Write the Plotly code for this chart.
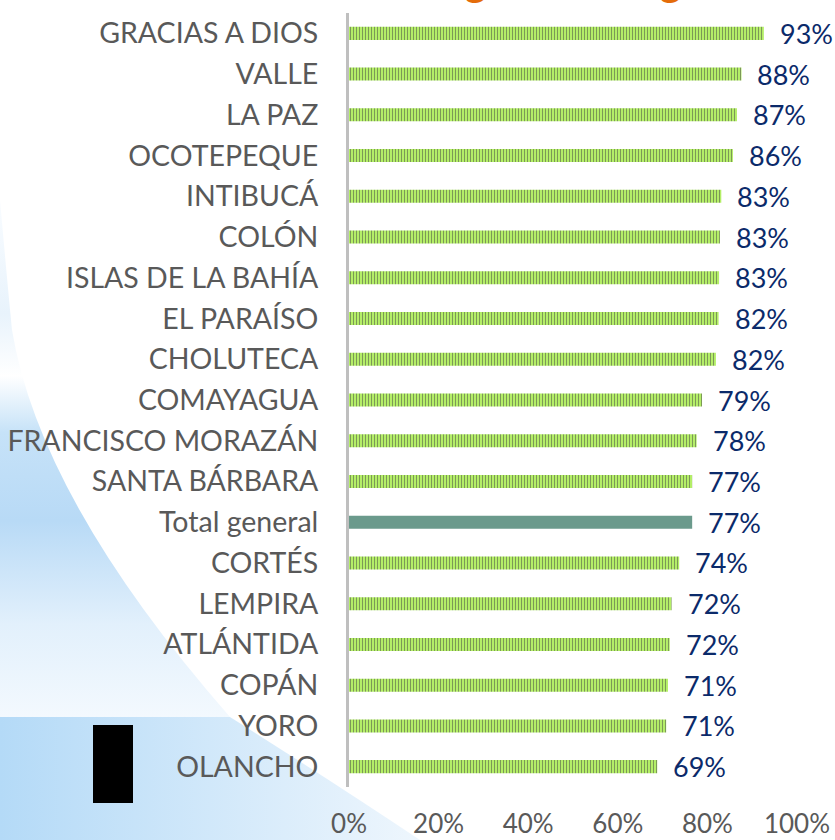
import base64
import plotly.graph_objects as go

departamentos = ["GRACIAS A DIOS", "VALLE", "LA PAZ", "OCOTEPEQUE", "INTIBUCÁ", "COLÓN",
                 "ISLAS DE LA BAHÍA", "EL PARAÍSO", "CHOLUTECA", "COMAYAGUA",
                 "FRANCISCO MORAZÁN", "SANTA BÁRBARA", "Total general", "CORTÉS",
                 "LEMPIRA", "ATLÁNTIDA", "COPÁN", "YORO", "OLANCHO"]
porcentajes = [0.926, 0.876, 0.866, 0.857, 0.831, 0.828, 0.826, 0.825, 0.819, 0.788,
               0.776, 0.766, 0.766, 0.737, 0.720, 0.716, 0.712, 0.708, 0.688]
x_ticks = [0, 0.2, 0.4, 0.6, 0.8, 1.0]
x_tick_labels = ["0%", "20%", "40%", "60%", "80%", "100%"]

W, H = 835, 840
L, R, T, B = 349, 38, 13, 53
PW, PH = W - L - R, H - T - B


def px_x(px):
    return (px - L) / PW


def px_y(py):
    return (H - B - py) / PH


svg = f'''<svg xmlns="http://www.w3.org/2000/svg" width="{W}" height="{H}" viewBox="0 0 {W} {H}" preserveAspectRatio="none">
<defs>
<linearGradient id="a" x1="0" y1="200" x2="0" y2="717" gradientUnits="userSpaceOnUse">
<stop offset="0" stop-color="#f9fcff"/>
<stop offset="0.22" stop-color="#e8f3fc"/>
<stop offset="0.34" stop-color="#ffffff"/>
<stop offset="0.45" stop-color="#c6e2f8"/>
<stop offset="0.62" stop-color="#b8daf6"/>
<stop offset="0.82" stop-color="#e2f0fc"/>
<stop offset="1" stop-color="#f3f9fe"/>
</linearGradient>
<linearGradient id="b" x1="0" y1="0" x2="420" y2="0" gradientUnits="userSpaceOnUse">
<stop offset="0" stop-color="#b4daf7"/>
<stop offset="1" stop-color="#eef6fd"/>
</linearGradient>
</defs>
<path d="M0,200 Q8,290 12,330 Q40,500 230,717 L0,717 Z" fill="url(#a)"/>
<path d="M0,717 L230,717 Q330,780 420,840 L0,840 Z" fill="url(#b)"/>
</svg>'''
svg_uri = "data:image/svg+xml;base64," + base64.b64encode(svg.encode()).decode()

colors = ["#6b9a8c" if d == "Total general" else "#b4ee68" for d in departamentos]
pattern_shapes = ["" if d == "Total general" else "|" for d in departamentos]

fig = go.Figure()
fig.add_trace(go.Bar(
    x=porcentajes, y=departamentos, orientation="h",
    marker=dict(color=colors, line=dict(width=0),
                pattern=dict(shape=pattern_shapes, fgcolor="#a0e055",
                             size=3, solidity=0.35, fillmode="overlay")),
    hoverinfo="skip",
))

for d, v in zip(departamentos, porcentajes):
    fig.add_annotation(x=v, y=d, xref="x", yref="y", text=f"{round(v * 100)}%",
                       showarrow=False, xanchor="left", yanchor="middle", xshift=14,
                       font=dict(family="Lato", size=27, color="#0b2a6a"))

# partially visible orange heading at the top edge
for gx in [475, 670]:
    fig.add_annotation(x=px_x(gx), y=px_y(6), xref="paper", yref="paper", text="g",
                       showarrow=False, xanchor="center", yanchor="bottom",
                       font=dict(family="Lato", size=44, color="#e46c0a"))

fig.add_layout_image(dict(source=svg_uri, xref="paper", yref="paper",
                          x=px_x(0), y=px_y(0), sizex=W / PW, sizey=H / PH,
                          xanchor="left", yanchor="top", sizing="stretch", layer="below"))

fig.add_shape(type="rect", xref="paper", yref="paper",
              x0=px_x(93), x1=px_x(133), y0=px_y(803), y1=px_y(725),
              fillcolor="black", line=dict(width=0))

fig.update_layout(
    width=W, height=H, autosize=False,
    margin=dict(l=L, r=R, t=T, b=B, pad=0),
    paper_bgcolor="white", plot_bgcolor="rgba(0,0,0,0)",
    bargap=0.68, showlegend=False,
    xaxis=dict(range=[0, 1], tickvals=x_ticks, ticktext=x_tick_labels,
               showgrid=False, zeroline=False, showline=False, automargin=False,
               ticks="outside", ticklen=14, tickcolor="rgba(0,0,0,0)",
               tickfont=dict(family="Lato", size=26, color="#595959")),
    yaxis=dict(autorange="reversed", showgrid=False, zeroline=False, automargin=False,
               showline=True, linecolor="#bfbfbf", linewidth=3,
               ticks="outside", ticklen=22, tickcolor="rgba(0,0,0,0)",
               tickfont=dict(family="Lato", size=28.5, color="#595959")),
)

fig.write_html("out.html")
